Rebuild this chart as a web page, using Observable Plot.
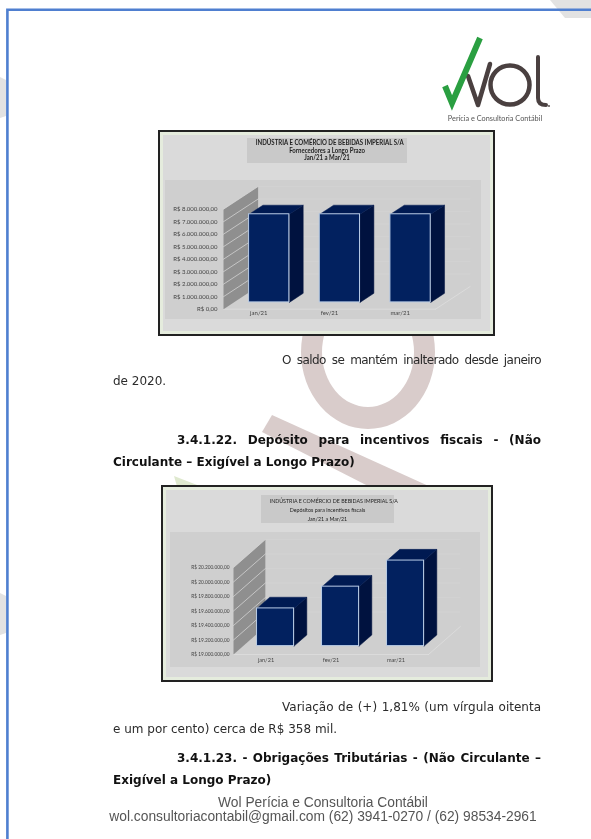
<!DOCTYPE html>
<html lang="pt-BR">
<head>
<meta charset="utf-8">
<script src="https://cdn.jsdelivr.net/npm/d3@7"></script>
<script src="https://cdn.jsdelivr.net/npm/@observablehq/plot@0.6"></script>
<style>
html,body{margin:0;padding:0;background:#fff;}
#page{position:relative;width:591px;height:839px;overflow:hidden;background:#fff;filter:blur(.35px);}
.abs{position:absolute;}
.t{position:absolute;font-family:"DejaVu Sans",sans-serif;font-size:12px;line-height:14px;color:#2b2b2b;white-space:nowrap;}
.b{font-weight:bold;color:#111;}
.j{white-space:normal;text-align:justify;text-align-last:justify;}
.foot{position:absolute;left:0;width:646px;text-align:center;font-family:"Liberation Sans",sans-serif;font-size:13.8px;line-height:12px;color:#555;white-space:nowrap;}
.frame{position:absolute;box-sizing:border-box;border:2px solid #222;background:#dadada;box-shadow:inset 0 0 0 3px #e5ecdd;}
.area{position:absolute;background:#cfcfcf;}
.titlebox{position:absolute;background:#c9c9c9;color:#222;text-align:center;font-family:Lato,sans-serif;font-weight:bold;display:flex;flex-direction:column;justify-content:center;white-space:nowrap;}
.titlebox div{transform:scaleX(var(--sx));}
svg.plot{position:absolute;overflow:visible;background:transparent;}
</style>
</head>
<body>
<div id="page">
  <svg class="abs" width="591" height="839" style="left:0;top:0">
    <polygon points="550,0 591,0 591,18 565,18" fill="#e2e2e2"/>
    <polygon points="0,77 6,80 6,116 0,118" fill="#e2e2e2"/>
    <polygon points="0,593 6,596 6,633 0,635" fill="#e2e2e2"/>
    <path fill-rule="evenodd" fill="#d9cccb" d="M301,352a67,77 0 1,0 134,0a67,77 0 1,0 -134,0ZM322,352a46,55 0 1,0 92,0a46,55 0 1,0 -92,0Z"/>
    <polygon points="272,415 433,488 372,488 262,432" fill="#d9cccb"/>
    <polygon points="174,476 210,490 178,490" fill="#dfe9cf"/>
    <path d="M7.400,839V9.800H591" fill="none" stroke="#4f7fd0" stroke-width="2.600"/>
    <!-- logo -->
    <path d="M468,76L478,105L490,64" fill="none" stroke="#4a4040" stroke-width="4.500" stroke-linecap="round" stroke-linejoin="round"/>
    <circle cx="510" cy="85" r="19.500" fill="none" stroke="#4a4040" stroke-width="4.500"/>
    <path d="M538,57V98Q538,105 546,105" fill="none" stroke="#4a4040" stroke-width="4" stroke-linecap="round"/>
    <circle cx="549" cy="106" r="0.900" fill="#4a4040"/>
    <path d="M445,86L452,103L480,38" fill="none" stroke="#2a9f41" stroke-width="6"/>
  </svg>
  <div class="abs" style="left:445px;top:114px;width:100px;text-align:center;font:7.300px Lato,sans-serif;color:#555;white-space:nowrap">Perícia e Consultoria Contábil</div>

  <div class="frame" style="left:158px;top:130px;width:337px;height:206px"></div>
  <div class="area" style="left:165px;top:180px;width:316px;height:139px"></div>
  <div class="titlebox" style="--sx:.89;left:247px;top:138px;width:160px;height:25px;font-size:6.800px;line-height:7.500px">
    <div>INDÚSTRIA E COMÉRCIO DE BEBIDAS IMPERIAL S/A</div><div>Fornecedores a Longo Prazo</div><div>Jan/21 a Mar/21</div>
  </div>
  <div id="chart1"></div>

  <div class="frame" style="left:161px;top:485px;width:332px;height:197px"></div>
  <div class="area" style="left:170px;top:532px;width:310px;height:135px"></div>
  <div class="titlebox" style="--sx:.87;left:261px;top:495px;width:133px;height:28px;font-size:6.100px;line-height:9px;font-weight:normal">
    <div>INDÚSTRIA E COMÉRCIO DE BEBIDAS IMPERIAL S/A</div><div>Depósitos para incentivos fiscais</div><div>Jan/21 a Mar/21</div>
  </div>
  <div id="chart2"></div>

  <div class="t j" style="left:282px;top:353px;width:259px;letter-spacing:-.55px">O saldo se mantém inalterado desde janeiro</div>
  <div class="t" style="left:113px;top:374px">de 2020.</div>
  <div class="t b j" style="left:177px;top:433px;width:364px">3.4.1.22. Depósito para incentivos fiscais - (Não</div>
  <div class="t b" style="left:113px;top:455px">Circulante – Exigível a Longo Prazo)</div>
  <div class="t j" style="left:282px;top:700px;width:259px">Variação de (+) 1,81% (um vírgula oitenta</div>
  <div class="t" style="left:113px;top:722px">e um por cento) cerca de R$ 358 mil.</div>
  <div class="t b j" style="left:177px;top:751px;width:364px">3.4.1.23. - Obrigações Tributárias - (Não Circulante –</div>
  <div class="t b" style="left:113px;top:773px">Exigível a Longo Prazo)</div>
  <div class="foot" style="top:797px">Wol Perícia e Consultoria Contábil</div>
  <div class="foot" style="top:811px">wol.consultoriacontabil@gmail.com (62) 3941-0270 / (62) 98534-2961</div>
</div>

<script>
const categories = ["jan/21", "fev/21", "mar/21"];
const fornecedoresValues = [7050000, 7050000, 7050000];
const fornecedoresTicks = [0, 1000000, 2000000, 3000000, 4000000, 5000000, 6000000, 7000000, 8000000];
const depositosValues = [19520000, 19820000, 20180000];
const depositosTicks = [19000000, 19200000, 19400000, 19600000, 19800000, 20000000, 20200000];

const brl = d3.formatLocale({decimal: ",", thousands: ".", grouping: [3], currency: ["R$ ", ""]}).format("$,.2f");

function chart3d({el, values, ticks, depthValue, left, top, width, height,
                  marginLeft, marginRight, marginTop, marginBottom, fontSize, xPad, yPad}) {
  const base = ticks[0], topTick = ticks[ticks.length - 1];
  const depthX = 0.49;                    // oblique depth, in category units
  const px = (x, z) => x + z * depthX;
  const py = (v, z) => v + z * depthValue;
  const z0 = 0.3, z1 = 0.7, half = 0.285;

  const poly = (id, pts) => pts.concat([pts[0]]).map(([x, v, z]) => ({id, x: px(x, z), y: py(v, z)}));
  const seg = (id, a, b) => [a, b].map(([x, v, z]) => ({id, x: px(x, z), y: py(v, z)}));

  const wall = poly("wall", [[0, base, 0], [0, topTick, 0], [0, topTick, 1], [0, base, 1]]);
  const wallLines = ticks.slice(1).flatMap((t) => seg("w" + t, [0, t, 0], [0, t, 1]));
  const backLines = ticks.slice(1).flatMap((t) => seg("g" + t, [0, t, 1], [3, t, 1]));
  const floor = [
    ...seg("f0", [0, base, 0], [3, base, 0]),
    ...seg("f1", [3, base, 0], [3, base, 1])
  ];

  const sides = values.flatMap((v, i) => {
    const x2 = i + 0.5 + half;
    return poly("s" + i, [[x2, base, z0], [x2, v, z0], [x2, v, z1], [x2, base, z1]]);
  });
  const tops = values.flatMap((v, i) => {
    const x1 = i + 0.5 - half, x2 = i + 0.5 + half;
    return poly("t" + i, [[x1, v, z0], [x2, v, z0], [x2, v, z1], [x1, v, z1]]);
  });
  const fronts = values.map((v, i) => ({
    x1: px(i + 0.5 - half, z0), x2: px(i + 0.5 + half, z0), y1: py(base, z0), y2: py(v, z0)
  }));

  const plot = Plot.plot({
    width, height, marginLeft, marginRight, marginTop, marginBottom,
    x: {type: "linear", domain: [0, 3]},
    y: {type: "linear", domain: [base, topTick]},
    style: {background: "transparent", overflow: "visible"},
    marks: [
      Plot.line(backLines, {x: "x", y: "y", z: "id", stroke: "#d4d4d4", strokeWidth: 0.5}),
      Plot.line(floor, {x: "x", y: "y", z: "id", stroke: "#dedede", strokeWidth: 0.8}),
      Plot.line(wall, {x: "x", y: "y", z: "id", fill: "#8f8f8f", stroke: "none"}),
      Plot.line(wallLines, {x: "x", y: "y", z: "id", stroke: "#dcdcdc", strokeWidth: 0.7}),
      Plot.line(sides, {x: "x", y: "y", z: "id", fill: "#00123f", stroke: "#00123f", strokeWidth: 0.5}),
      Plot.line(tops, {x: "x", y: "y", z: "id", fill: "#001a52", stroke: "#001a52", strokeWidth: 0.5}),
      Plot.rect(fronts, {x1: "x1", x2: "x2", y1: "y1", y2: "y2", fill: "#02215f", stroke: "#b9cce6", strokeWidth: 1}),
      Plot.axisY({ticks, tickFormat: (d) => brl(d), tickSize: 0, tickPadding: yPad, fontSize,
                  fontFamily: "Lato, sans-serif", color: "#444", label: null, line: false}),
      Plot.axisX({ticks: categories.map((_, i) => i + 0.5), tickFormat: (d) => categories[Math.floor(d)],
                  tickSize: 0, tickPadding: xPad, fontSize: Math.max(fontSize, 5.6),
                  fontFamily: "Lato, sans-serif", color: "#444", label: null, line: false})
    ]
  });
  plot.style.left = left + "px";
  plot.style.top = top + "px";
  plot.style.position = "absolute";
  document.getElementById(el).appendChild(plot);
}

chart3d({
  el: "chart1", values: fornecedoresValues, ticks: fornecedoresTicks, depthValue: 1816000,
  left: 158, top: 130, width: 337, height: 206,
  marginLeft: 65, marginRight: 60, marginTop: 78.7, marginBottom: 27.3, fontSize: 6, xPad: 2, yPad: 6
});
chart3d({
  el: "chart2", values: depositosValues, ticks: depositosTicks, depthValue: 386000,
  left: 161, top: 485, width: 332, height: 197,
  marginLeft: 72, marginRight: 65, marginTop: 82, marginBottom: 28, fontSize: 4.8, xPad: 4, yPad: 4
});
</script>
</body>
</html>
